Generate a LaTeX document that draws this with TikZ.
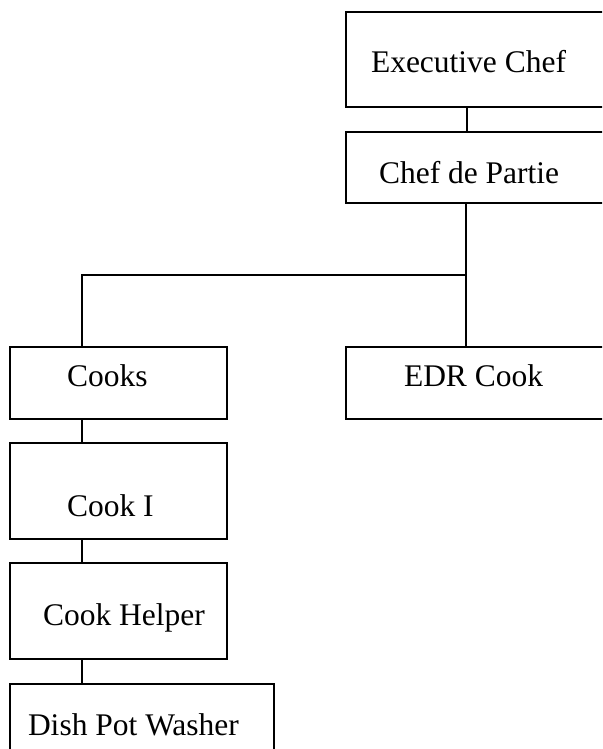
\documentclass[tikz,border=0pt]{standalone}
\usepackage{fontspec}
\setmainfont{Liberation Serif}
\usetikzlibrary{fit}
\begin{document}
\begin{tikzpicture}[x=1pt,y=-1pt,
  box/.style={draw,line width=1.2pt,inner sep=0pt,outer sep=0pt},
  lbl/.style={anchor=base west,inner sep=0pt,outer sep=0pt,font=\fontsize{31.5}{31.5}\selectfont},
  conn/.style={line width=1.2pt}]
\useasboundingbox (0,0) rectangle (602,749);
\clip (0,0) rectangle (602,749);
% boxes
\node[box, fit={(346,12) (625,107)}] (exec) {};
\node[box, fit={(346,132) (625,203)}] (cdp) {};
\node[box, fit={(10,347) (227,419)}] (cooks) {};
\node[box, fit={(346,347) (625,419)}] (edr) {};
\node[box, fit={(10,443) (227,539)}] (cook1) {};
\node[box, fit={(10,563) (227,659)}] (helper) {};
\node[box, fit={(10,684) (274,770)}] (dish) {};
% labels
\node[lbl] (t-exec) at (371,73) {Executive Chef};
\node[lbl] (t-cdp) at (379,183) {Chef de Partie};
\node[lbl] (t-cooks) at (67,386) {Cooks};
\node[lbl] (t-edr) at (404,386) {EDR Cook};
\node[lbl] (t-cook1) at (67,516) {Cook I};
\node[lbl] (t-helper) at (43,625) {Cook Helper};
\node[lbl] (t-dish) at (28,735) {Dish Pot Washer};
% connectors
\coordinate (tx) at (467,0);
\coordinate (j1) at (466,275);
\coordinate (lx) at (82,275);
\draw[conn] (exec.south -| tx) -- (cdp.north -| tx);
\draw[conn] (cdp.south -| j1) -- (edr.north -| j1);
\draw[conn] (j1) -- (lx) -- (cooks.north -| lx);
\draw[conn] (cooks.south -| lx) -- (cook1.north -| lx);
\draw[conn] (cook1.south -| lx) -- (helper.north -| lx);
\draw[conn] (helper.south -| lx) -- (dish.north -| lx);
\end{tikzpicture}
\end{document}
